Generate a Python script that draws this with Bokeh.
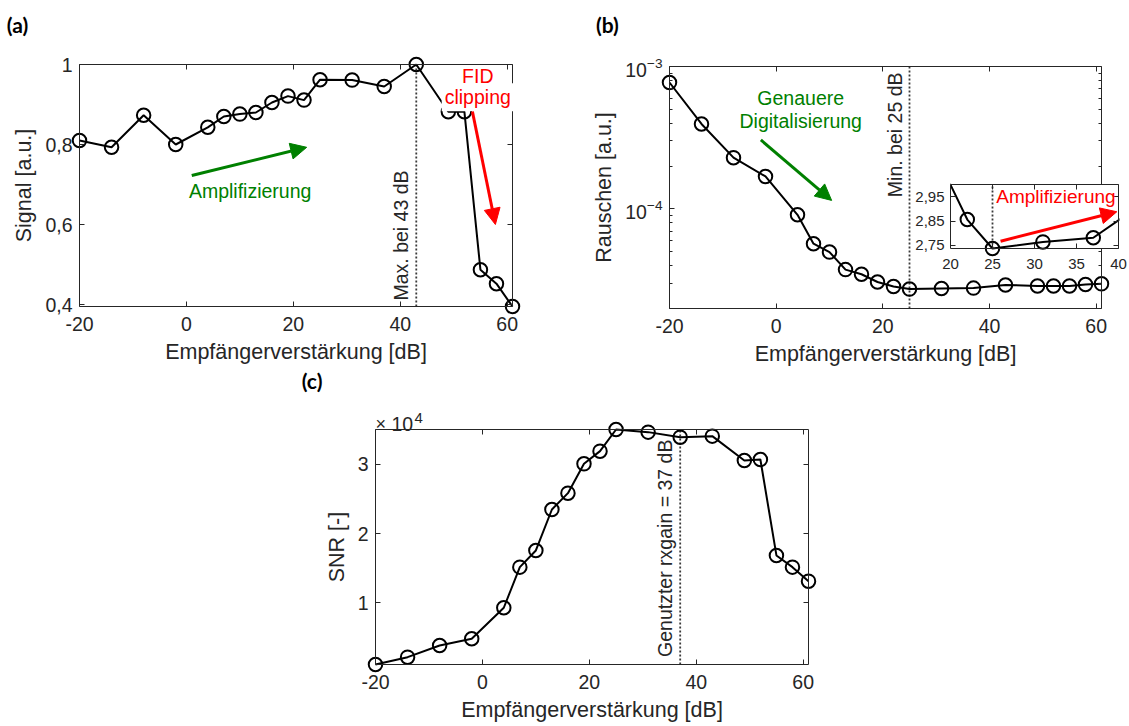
import math
from bokeh.plotting import figure
from bokeh.layouts import row, column
from bokeh.models import (Range1d, LinearAxis, LogAxis, FixedTicker, CustomJSTickFormatter,
                          LogTickFormatter, Label, Arrow, NormalHead, BoxAnnotation, Spacer)
from bokeh.embed import file_html
from bokeh.resources import INLINE

# ---------------- data ----------------
gain_db = [-20, -14, -8, -2, 4, 7, 10, 13, 16, 19, 22, 25, 31, 37, 43, 49, 52, 55, 58, 61]
signal_au = [0.810, 0.793, 0.873, 0.800, 0.843, 0.870, 0.876, 0.880, 0.905, 0.921,
             0.911, 0.962, 0.961, 0.945, 1.000, 0.882, 0.882, 0.487, 0.452, 0.395]
noise_1e5 = [77.2, 39.5, 22.9, 16.9, 9.1, 5.7, 4.98, 3.75, 3.48, 3.07,
             2.856, 2.737, 2.764, 2.781, 2.925, 2.88, 2.88, 2.88, 2.95, 2.98]
snr = [1080, 2140, 3830, 4800, 9280, 15150, 17560, 23480, 25840, 30080,
       31910, 35040, 34660, 33930, 34080, 30560, 30710, 16840, 15150, 13120]
noise_au = [v * 1e-5 for v in noise_1e5]

gain_ticks = [-20, 0, 20, 40, 60]
signal_ticks = [0.4, 0.6, 0.8, 1.0]
noise_ticks = [1e-4, 1e-3]
noise_minor = [k * 1e-5 for k in range(2, 10)] + [k * 1e-4 for k in range(2, 10)]
snr_ticks = [10000, 20000, 30000]
inset_gain_ticks = [20, 25, 30, 35, 40]
inset_noise_ticks = [2.75, 2.85, 2.95]

gain_lim = (-20, 61)
signal_lim = (0.395, 1.0)
noise_lim = (2e-5, 1e-3)
snr_lim = (1080, 35040)
inset_gain_lim = (20, 40)
inset_noise_lim = (2.737, 3.0)

max_signal_gain = 43
min_noise_gain = 25
used_gain = 37

# ---------------- style ----------------
FONT = "Liberation Sans"
AXC = "#262626"
GREEN = "#008000"
RED = "#ff0000"
TICK_PX = "19.5px"
LABEL_PX = "21.5px"
NOTE_PX = "19.5px"
XLABEL = "Empfängerverstärkung [dB]"


def lin_range(lo, hi, box_px, pad_lo, pad_hi):
    k = (hi - lo) / box_px
    return Range1d(lo - pad_lo * k, hi + pad_hi * k)


def log_range(lo, hi, box_px, pad_lo, pad_hi):
    a, b = math.log10(lo), math.log10(hi)
    k = (b - a) / box_px
    return Range1d(10 ** (a - pad_lo * k), 10 ** (b + pad_hi * k))


def make_plot(fw, fh, xr, yr, borders=(0, 0, 0, 0), ylog=False, fill="white"):
    bl, br, bt, bb = borders
    p = figure(frame_width=fw, frame_height=fh,
               x_range=xr, y_range=yr, y_axis_type="log" if ylog else "linear",
               x_axis_location=None, y_axis_location=None, title=None,
               min_border_left=bl, min_border_right=br, min_border_top=bt, min_border_bottom=bb,
               toolbar_location=None, output_backend="svg",
               outline_line_color=None, background_fill_color=fill, border_fill_color=fill)
    p.xgrid.grid_line_color = None
    p.ygrid.grid_line_color = None
    return p


def style_axis(ax, labels, tick_px, standoff, line=True):
    ax.axis_line_color = AXC if line else None
    ax.axis_line_width = 1
    ax.major_tick_line_color = AXC if line else None
    ax.major_tick_in = 5
    ax.major_tick_out = 0
    ax.minor_tick_line_color = AXC if line else None
    ax.minor_tick_in = 3
    ax.minor_tick_out = 0
    ax.major_label_text_font = FONT
    ax.major_label_text_font_size = tick_px
    ax.major_label_text_color = AXC if labels else None
    ax.major_label_standoff = standoff
    ax.axis_label_text_font = FONT
    ax.axis_label_text_font_size = LABEL_PX
    ax.axis_label_text_font_style = "normal"
    ax.axis_label_text_color = AXC
    ax.axis_label_standoff = 6


def add_box(p, xlim, ylim, xticks, yticks, xfmt, yfmt, xlabel=None, ylabel=None,
            ylog=False, yminor=None, tick_px=TICK_PX, xstand=10, ystand=7):
    YAxis = LogAxis if ylog else LinearAxis
    yt = FixedTicker(ticks=yticks, minor_ticks=yminor or [])
    xt = FixedTicker(ticks=xticks)
    left = YAxis(fixed_location=xlim[0], bounds=ylim, ticker=yt, formatter=yfmt, axis_label=ylabel)
    right = YAxis(fixed_location=xlim[1], bounds=ylim, ticker=yt, formatter=yfmt)
    bottom = LinearAxis(fixed_location=ylim[0], bounds=xlim, ticker=xt, formatter=xfmt, axis_label=xlabel)
    top = LinearAxis(fixed_location=ylim[1], bounds=xlim, ticker=xt, formatter=xfmt)
    style_axis(left, True, tick_px, ystand)
    style_axis(right, False, tick_px, 0)
    style_axis(bottom, True, tick_px, xstand)
    style_axis(top, False, tick_px, 0)
    p.add_layout(left, "left")
    p.add_layout(right, "right")
    p.add_layout(bottom, "below")
    p.add_layout(top, "above")
    return left


def series(p, xs, ys):
    p.line(xs, ys, line_color="black", line_width=2)
    p.scatter(xs, ys, marker="circle", size=13.5, fill_color=None, line_color="black", line_width=2)


def vline(p, x, ylim):
    p.segment(x0=[x], y0=[ylim[0]], x1=[x], y1=[ylim[1]], line_color="#3a3a3a",
              line_width=1.8, line_dash="2 2")


def note(p, x, y, text, color, size=NOTE_PX, align="center", baseline="middle", angle=0,
         x_offset=0, y_offset=0, bg=None, pad=0, font=FONT, style="normal"):
    p.add_layout(Label(x=x, y=y, text=text, text_color=color, text_font=font,
                       text_font_size=size, text_font_style=style, text_align=align,
                       text_baseline=baseline, angle=angle, angle_units="deg",
                       x_offset=x_offset, y_offset=y_offset,
                       background_fill_color=bg, padding=pad))


def arrow(p, x0, y0, x1, y1, color, head=16):
    p.add_layout(Arrow(end=NormalHead(size=head, fill_color=color, line_color=color, line_width=1),
                       x_start=x0, y_start=y0, x_end=x1, y_end=y1,
                       line_color=color, line_width=3))


gain_fmt = CustomJSTickFormatter(code="return tick.toFixed(0);")
comma1 = CustomJSTickFormatter(code="return Math.abs(tick-Math.round(tick))<1e-9 ? tick.toFixed(0) : tick.toFixed(1).replace('.', ',');")
comma2 = CustomJSTickFormatter(code="return tick.toFixed(2).replace('.', ',');")
e4_fmt = CustomJSTickFormatter(code="return (tick/1e4).toFixed(0);")

ROW1_H = 369
PANEL_FONT = "Lato"
PANEL_PX = "21px"

# ---------------- panel (a): canvas 552 x 369, box L79 T64 R512 B306 ----------------
pa = make_plot(552, ROW1_H, lin_range(*gain_lim, 433, 79, 552 - 512),
               lin_range(*signal_lim, 242, ROW1_H - 306, 64))
add_box(pa, gain_lim, signal_lim, gain_ticks, signal_ticks, gain_fmt, comma1,
        xlabel=XLABEL, ylabel="Signal [a.u.]")
vline(pa, max_signal_gain, signal_lim)
series(pa, gain_db, signal_au)
arrow(pa, 1.0, 0.7225, 22.5, 0.793, GREEN)
note(pa, 0.47, 0.683, "Amplifizierung", GREEN, align="left")
note(pa, 54.5, 0.9725, "FID", RED)
note(pa, 54.5, 0.918, "clipping", RED, bg="white", pad=3)
arrow(pa, 53.5, 0.8825, 57.8, 0.600, RED)
note(pa, max_signal_gain, 0.41, "Max. bei 43 dB", AXC, align="left", baseline="bottom",
     angle=90, x_offset=-4)
note(pa, -33.6, 1.101, "(a)", "black", size=PANEL_PX, align="left", font=PANEL_FONT, style="bold")

# ---------------- panel (b): canvas 577 x 369 at x=552, box L117 T66 R549 B308 ----------------
pb = make_plot(577, ROW1_H, lin_range(*gain_lim, 432, 117, 577 - 549),
               log_range(*noise_lim, 242, ROW1_H - 308, 66), ylog=True)
add_box(pb, gain_lim, noise_lim, gain_ticks, noise_ticks, gain_fmt, LogTickFormatter(),
        xlabel=XLABEL, ylabel="Rauschen [a.u.]", ylog=True, yminor=noise_minor)
vline(pb, min_noise_gain, noise_lim)
series(pb, gain_db, noise_au)
note(pb, 4.6, 5.97e-4, "Genauere", GREEN)
note(pb, 4.6, 4.12e-4, "Digitalisierung", GREEN)
arrow(pb, -2.87, 3.05e-4, 10.4, 1.148e-4, GREEN)
note(pb, min_noise_gain, 1.21e-4, "Min. bei 25 dB", AXC, align="left", baseline="bottom",
     angle=90, x_offset=-4)
note(pb, -33.8, 1.987e-3, "(b)", "black", size=PANEL_PX, align="left", font=PANEL_FONT, style="bold")

# ---------------- inset of (b): box L950 T183 168x64 ----------------
pi = make_plot(168 + 1, 64 + 1 + 9, Range1d(inset_gain_lim[0], inset_gain_lim[1] + 20 / 168),
               lin_range(*inset_noise_lim, 64, 9, 1), borders=(45, 10, 4, 24), fill=None)
pi.add_layout(BoxAnnotation(left=inset_gain_lim[0], right=inset_gain_lim[1],
                            bottom=inset_noise_lim[0], top=inset_noise_lim[1],
                            fill_color="white", fill_alpha=1.0, line_color=None, level="underlay"))
yt_i = FixedTicker(ticks=inset_noise_ticks)
xt_i = FixedTicker(ticks=inset_gain_ticks)
ax = LinearAxis(bounds=inset_noise_lim, ticker=yt_i, formatter=comma2)
style_axis(ax, True, "15px", 6)
pi.add_layout(ax, "left")
ax = LinearAxis(ticker=xt_i, formatter=gain_fmt)
style_axis(ax, True, "15px", 1, line=False)
pi.add_layout(ax, "below")
for loc, lim, tk, side in [(inset_noise_lim[0], inset_gain_lim, xt_i, "below"),
                           (inset_noise_lim[1], inset_gain_lim, xt_i, "above"),
                           (inset_gain_lim[1], inset_noise_lim, yt_i, "right")]:
    ax = LinearAxis(fixed_location=loc, bounds=lim, ticker=tk, formatter=gain_fmt)
    style_axis(ax, False, "15px", 0)
    pi.add_layout(ax, side)
vline(pi, min_noise_gain, inset_noise_lim)
series(pi, gain_db, noise_1e5)
note(pi, 25.45, 2.949, "Amplifizierung", RED, size="19px", align="left")
arrow(pi, 25.96, 2.767, 39.8, 2.888, RED)
INSET_X0, INSET_Y0, INSET_H = 905, 179, 4 + 74 + 24
pi.margin = (INSET_Y0 - ROW1_H, 0, ROW1_H - (INSET_Y0 + INSET_H), INSET_X0)

# ---------------- panel (c): canvas 849 x 356 at (280, 369), box L95 T60 R528 B295 ----------------
pc = make_plot(849, 356, lin_range(*gain_lim, 433, 95, 849 - 528),
               lin_range(*snr_lim, 235, 356 - 295, 60))
add_box(pc, gain_lim, snr_lim, gain_ticks, snr_ticks, gain_fmt, e4_fmt,
        xlabel=XLABEL, ylabel="SNR [-]")
vline(pc, used_gain, snr_lim)
series(pc, gain_db, snr)
note(pc, used_gain, 2175, "Genutzter rxgain = 37 dB", AXC, align="left", baseline="bottom",
     angle=90, x_offset=-4)
note(pc, gain_lim[0], snr_lim[1], "×", AXC, size="18px", align="left", baseline="alphabetic",
     y_offset=6)
note(pc, gain_lim[0], snr_lim[1], "10", AXC, size=TICK_PX, align="left", baseline="alphabetic",
     x_offset=16, y_offset=6)
note(pc, gain_lim[0], snr_lim[1], "4", AXC, size="15px", align="left", baseline="alphabetic",
     x_offset=39, y_offset=12)
note(pc, -33.8, 42190, "(c)", "black", size=PANEL_PX, align="left", font=PANEL_FONT, style="bold")

layout = column(row(pa, pb), pi, row(Spacer(width=280, height=1), pc))
open("out.html", "w").write(file_html(layout, INLINE))
